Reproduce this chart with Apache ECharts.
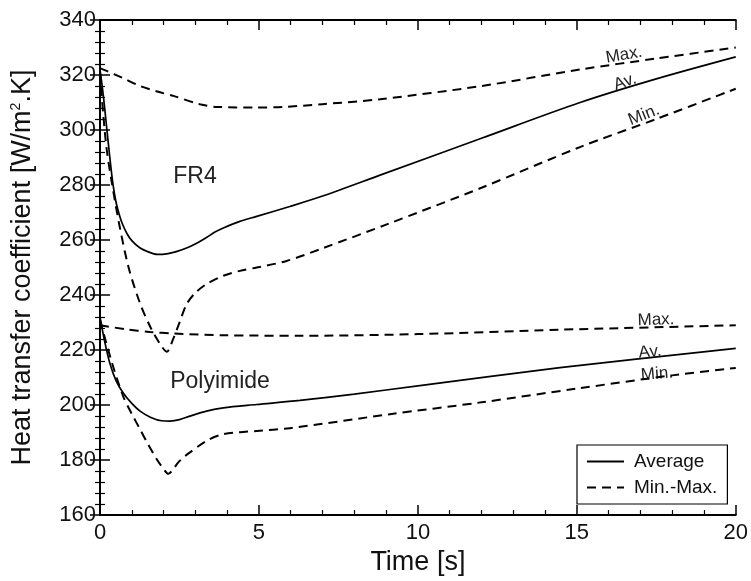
<!DOCTYPE html>
<html>
<head>
<meta charset="utf-8">
<script src="https://cdn.jsdelivr.net/npm/echarts@6/dist/echarts.min.js"></script>
<style>html,body{margin:0;padding:0;background:#fff}#c{width:751px;height:581px}</style>
</head>
<body>
<div id="c"></div>
<script>
// FR4
const fr4AvT = [0, 0.1, 0.2, 0.3, 0.4, 0.5, 0.6, 0.7, 0.85, 1.0, 1.25, 1.5, 1.8, 2.1, 2.4, 2.8, 3.1, 3.35, 3.6, 3.88, 4.4, 4.93, 5.97, 7, 8.81, 12, 15.1, 17.5, 20];
const fr4AvV = [322, 313, 302, 291, 281, 274, 269.5, 266, 262.3, 259.8, 257.2, 255.8, 254.8, 255, 255.8, 257.5, 259.2, 260.9, 262.8, 264.4, 266.8, 268.6, 272.2, 276, 283.6, 297, 310, 318.6, 326.6];
const fr4MaxT = [0, 0.21, 0.7, 1.26, 1.8, 2.31, 3.14, 3.67, 4.93, 5.75, 7, 8.81, 12, 15.1, 17.5, 20];
const fr4MaxV = [322.5, 321.5, 319, 316, 314, 312.4, 309.4, 308.4, 308.2, 308.4, 309.4, 311.2, 316, 322, 326, 330];
const fr4MinT = [0, 0.1, 0.21, 0.37, 0.6, 0.9, 1.26, 1.6, 1.9, 2.1, 2.3, 2.5, 2.73, 3.0, 3.35, 3.88, 4.4, 4.93, 5.87, 7, 9.0, 12, 15.1, 17.5, 20];
const fr4MinV = [321, 306, 293, 281, 266, 250, 237, 228, 222, 219.4, 224, 230, 236.8, 240.8, 244, 247, 248.8, 250, 252.4, 257, 265.6, 279, 293.8, 304, 315];
// Polyimide
const pyAvT = [0, 0.15, 0.31, 0.5, 0.73, 1.0, 1.26, 1.6, 1.94, 2.2, 2.5, 2.83, 3.35, 3.88, 4.93, 6.29, 8, 10, 14.47, 20];
const pyAvV = [232, 223, 215.2, 209, 204.4, 200.6, 197.8, 195.5, 194.3, 194.2, 194.7, 196, 197.8, 199, 200.2, 201.7, 204, 207, 213.6, 220.6];
const pyMaxT = [0, 0.8, 1.57, 2.31, 3.88, 6.29, 10, 14.47, 20];
const pyMaxV = [229, 227.6, 226.6, 226, 225.4, 225.2, 225.8, 227.4, 229];
const pyMinT = [0, 0.36, 0.73, 1.0, 1.26, 1.5, 1.78, 2.0, 2.15, 2.3, 2.45, 2.63, 2.83, 3.35, 3.88, 4.93, 5.97, 9.07, 12, 15, 18, 20];
const pyMinV = [231, 216, 203.2, 196.8, 191.2, 186, 180.4, 176.8, 175, 176.6, 179, 181, 182.8, 187, 189.4, 190.6, 191.6, 196.6, 201, 206, 210.8, 213.5];
const xTicks = [0, 5, 10, 15, 20];
const yTicks = [160, 180, 200, 220, 240, 260, 280, 300, 320, 340];

function pairs(t, v) { return t.map((x, i) => [x, v[i]]); }

const chart = echarts.init(document.getElementById('c'), null, {renderer: 'canvas'});
const FONT = 'Liberation Sans, Arial, sans-serif';
const solid = {color: '#000', width: 1.7, type: 'solid'};
const dashed = {color: '#000', width: 2, type: [9, 6]};
function ser(name, t, v, ls) {
  return {name: name, type: 'line', data: pairs(t, v), smooth: 0.3, symbol: 'none', showSymbol: false,
    lineStyle: ls, itemStyle: {color: '#000'}, emphasis: {disabled: true}, animation: false, z: 3};
}
const axisCommon = {
  axisLine: {show: true, lineStyle: {color: '#000', width: 2}},
  axisTick: {show: true, inside: true, length: 10, lineStyle: {color: '#000', width: 1.5}},
  minorTick: {show: true, splitNumber: 5, length: 5, lineStyle: {color: '#000', width: 1.2}},
  splitLine: {show: false}
};
chart.setOption({
  animation: false,
  grid: {left: 100, right: 15, top: 20, bottom: 61},
  xAxis: [
    Object.assign({type: 'value', min: xTicks[0], max: xTicks[xTicks.length - 1], interval: 5, position: 'bottom',
      name: 'Time [s]', nameLocation: 'middle', nameGap: 33,
      nameTextStyle: {fontFamily: FONT, fontSize: 27, color: '#111'},
      axisLabel: {fontFamily: FONT, fontSize: 22, color: '#111', margin: 7}}, axisCommon),
    Object.assign({type: 'value', min: 0, max: 20, interval: 5, position: 'top', axisLabel: {show: false}}, axisCommon)
  ],
  yAxis: [
    Object.assign({type: 'value', min: yTicks[0], max: yTicks[yTicks.length - 1], interval: 20, position: 'left',
      name: 'Heat transfer coefficient [W/m{sup|2}.K]', nameLocation: 'middle', nameGap: 64, nameRotate: 90,
      nameTextStyle: {fontFamily: FONT, fontSize: 27, color: '#111',
        rich: {sup: {fontFamily: FONT, fontSize: 14, color: '#111', verticalAlign: 'top', padding: [0, 0, 13, 0]}}},
      axisLabel: {fontFamily: FONT, fontSize: 22, color: '#111', margin: 4}}, axisCommon),
    Object.assign({type: 'value', min: 160, max: 340, interval: 20, position: 'right', axisLabel: {show: false}}, axisCommon)
  ],
  legend: {
    data: ['Average', 'Min.-Max.'], orient: 'vertical', left: 577, top: 445,
    padding: [7, 10, 7, 9], itemGap: 7, itemWidth: 37, itemHeight: 14,
    borderColor: '#000', borderWidth: 1.2, borderRadius: 0, backgroundColor: '#fff',
    itemStyle: {opacity: 0, borderWidth: 0},
    textStyle: {fontFamily: FONT, fontSize: 19, color: '#111', padding: [0, 0, 0, 5]},
    selectedMode: false
  },
  series: [
    ser('Average', fr4AvT, fr4AvV, solid),
    ser('Min.-Max.', fr4MaxT, fr4MaxV, dashed),
    ser('Min.-Max.', fr4MinT, fr4MinV, dashed),
    ser('Average', pyAvT, pyAvV, solid),
    ser('Min.-Max.', pyMaxT, pyMaxV, dashed),
    ser('Min.-Max.', pyMinT, pyMinV, dashed)
  ],
  graphic: [
    {type: 'text', x: 195, y: 177, style: {text: 'FR4', font: '23px ' + FONT, fill: '#222', align: 'center', verticalAlign: 'middle'}},
    {type: 'text', x: 220, y: 382, style: {text: 'Polyimide', font: '23px ' + FONT, fill: '#222', align: 'center', verticalAlign: 'middle'}},
    {type: 'text', x: 624, y: 55, rotation: 0.17, style: {text: 'Max.', font: '17px ' + FONT, fill: '#222', align: 'center', verticalAlign: 'middle'}},
    {type: 'text', x: 625, y: 82, rotation: 0.33, style: {text: 'Av.', font: '17px ' + FONT, fill: '#222', align: 'center', verticalAlign: 'middle'}},
    {type: 'text', x: 644, y: 115, rotation: 0.38, style: {text: 'Min.', font: '17px ' + FONT, fill: '#222', align: 'center', verticalAlign: 'middle'}},
    {type: 'text', x: 656, y: 320, rotation: 0.03, style: {text: 'Max.', font: '17px ' + FONT, fill: '#222', align: 'center', verticalAlign: 'middle'}},
    {type: 'text', x: 650, y: 352, rotation: 0.1, style: {text: 'Av.', font: '17px ' + FONT, fill: '#222', align: 'center', verticalAlign: 'middle'}},
    {type: 'text', x: 657, y: 374, rotation: 0.08, style: {text: 'Min.', font: '17px ' + FONT, fill: '#222', align: 'center', verticalAlign: 'middle'}}
  ]
});
</script>
</body>
</html>
